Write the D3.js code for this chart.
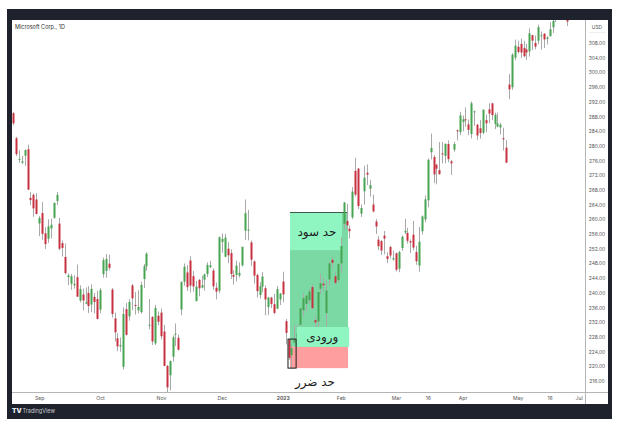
<!DOCTYPE html>
<html><head><meta charset="utf-8">
<script src="https://cdn.jsdelivr.net/npm/d3@7"></script>
<style>html,body{margin:0;padding:0;background:#fff;} svg{display:block}</style>
</head><body><svg id="c" width="624" height="427"></svg>
<script>
// Microsoft Corp. daily candles, 2022-08-19 .. 2023-05-31 (one entry per trading day)
const open = [
288.90,282.08,276.44,275.41,277.33,279.08,265.85,266.67,265.39,
258.87,261.70,256.20,254.70,257.51,260.43,265.00,258.84,253.53,249.77,244.26,242.47,242.07,244.26,237.88,239.54,237.05,239.98,236.81,238.89,238.29,
235.41,245.09,245.99,247.93,240.90,233.05,227.62,225.40,219.85,235.54,233.60,242.02,236.70,235.23,234.74,243.76,247.24,231.17,233.40,226.24,233.76,
234.60,229.46,220.08,217.55,222.60,228.73,227.75,235.43,242.99,245.54,248.80,244.51,237.78,243.51,241.43,243.59,245.11,246.98,246.08,241.40,240.57,
253.87,249.82,252.01,250.82,244.83,244.84,244.70,247.45,256.92,257.13,253.72,248.55,244.86,239.40,241.69,241.26,236.11,238.70,236.89,235.65,238.21,
243.08,232.28,227.20,223.00,226.45,227.76,231.29,235.26,237.00,237.97,241.57,232.56,232.23,241.10,242.50,234.48,243.65,248.99,244.51,243.45,
248.00,258.82,259.54,257.44,260.53,273.20,273.80,261.53,267.64,272.67,268.32,264.02,259.39,254.48,254.09,255.56,249.96,252.46,249.07,
250.76,246.55,252.19,256.43,256.30,254.04,255.82,251.08,247.40,256.75,259.98,265.21,278.26,276.98,274.88,273.40,277.94,277.24,280.50,275.79,278.96,284.23,283.73,
286.52,287.23,285.85,283.21,289.21,285.75,284.79,283.59,287.00,289.93,291.57,285.99,285.25,285.01,282.09,279.51,296.70,295.97,304.01,
306.97,307.76,306.62,306.24,305.72,310.13,308.00,308.62,310.10,310.55,309.10,309.83,312.29,314.53,316.74,318.60,320.03,314.73,323.24,324.02,335.23,332.29];
const high = [
289.25,282.46,278.86,277.23,279.02,280.34,267.40,267.05,267.11,
260.89,264.74,257.83,260.01,260.19,264.60,267.45,260.40,254.23,253.42,245.30,245.14,244.74,247.67,242.04,241.13,241.45,241.80,242.33,239.95,240.54,
241.31,249.58,250.58,250.35,241.32,234.56,229.06,227.86,236.05,237.24,238.24,242.39,240.17,240.66,243.00,247.84,251.04,238.30,233.69,236.72,234.92,
235.74,231.30,220.41,221.59,228.43,231.65,228.60,243.10,247.99,247.56,249.93,245.93,243.25,243.74,244.67,245.26,248.28,248.70,246.65,242.79,255.33,
256.12,256.06,253.82,251.86,246.16,248.74,248.31,252.54,265.40,262.59,254.20,248.84,245.21,242.91,245.62,241.99,238.87,238.93,239.72,241.92,239.96,
245.75,232.87,227.55,225.76,231.24,231.31,235.95,239.90,239.37,240.91,242.38,233.53,240.34,245.21,243.95,243.30,248.31,249.83,245.60,247.95,
255.18,264.69,264.20,258.30,268.77,276.76,273.98,264.09,274.60,274.97,270.73,266.74,260.09,255.49,254.34,256.84,251.00,252.82,251.49,
250.93,251.40,255.62,260.12,257.69,254.54,259.56,252.79,257.91,261.07,266.48,276.56,283.33,277.48,275.00,281.04,281.06,280.63,281.46,276.14,281.14,284.46,289.27,
288.27,290.45,287.15,292.08,289.60,285.98,287.01,289.90,288.48,291.60,291.76,289.05,289.03,286.27,284.95,281.60,299.57,305.20,308.93,
308.60,309.18,308.61,307.76,311.97,310.20,310.04,313.00,311.12,310.65,309.90,313.71,314.43,319.04,318.75,322.59,322.72,316.50,326.90,333.40,335.74,335.94];
const low = [
285.56,277.22,275.40,275.11,274.52,267.98,263.85,260.66,261.33,
255.41,254.47,251.94,253.60,254.81,260.15,263.90,251.59,249.86,244.95,242.06,240.85,241.14,238.90,237.40,235.20,236.90,234.50,234.73,234.41,232.73,
234.42,244.10,244.10,246.08,233.27,226.73,224.11,223.96,219.13,228.34,232.41,235.23,234.09,234.46,234.29,241.30,245.98,230.07,225.78,225.75,231.15,
227.33,220.04,213.00,213.43,221.28,225.50,224.33,233.90,241.93,240.53,240.12,240.32,237.63,239.03,241.19,240.58,244.27,246.73,240.80,238.21,239.86,
250.91,249.69,248.06,243.78,242.21,243.06,244.16,247.17,254.40,254.31,247.34,242.51,238.71,238.42,240.11,233.87,233.94,235.83,234.17,235.65,236.66,
237.40,225.96,221.76,219.35,226.41,227.33,231.11,233.56,234.92,237.09,235.52,230.31,230.81,239.65,240.44,230.90,242.00,246.83,242.20,242.95,
245.47,257.25,257.10,254.78,260.08,266.21,262.80,260.66,264.00,269.28,266.18,261.90,256.00,251.59,250.34,250.48,248.10,249.39,248.73,
245.79,245.61,251.39,255.98,253.39,250.81,251.58,247.60,245.73,255.86,259.21,263.28,276.32,269.85,269.52,272.18,275.20,275.28,275.52,272.05,278.41,281.48,283.00,
283.95,285.16,282.92,282.03,285.47,281.64,281.96,283.17,283.69,286.16,287.01,284.54,285.08,283.06,278.72,275.37,292.73,295.25,303.31,
305.15,303.91,304.09,303.40,304.27,306.09,306.31,307.67,306.26,306.60,307.59,309.83,310.74,313.72,316.37,318.01,315.25,312.61,320.00,323.88,330.52,327.33];
const close = [
286.15,277.75,276.44,275.79,278.85,268.09,265.23,262.97,261.47,
260.40,256.06,253.25,258.09,258.52,264.46,266.65,251.99,252.22,245.38,244.74,244.52,242.45,238.95,240.98,237.92,237.45,236.41,241.07,237.50,232.90,
240.74,248.88,249.20,246.79,234.24,229.25,225.41,225.75,234.24,228.56,237.53,238.50,236.48,236.15,242.12,247.25,250.66,231.32,226.75,235.87,232.13,
228.17,220.10,214.25,221.39,227.87,228.87,224.51,242.98,247.11,241.55,241.97,241.73,241.68,241.22,242.05,245.03,247.58,247.49,241.76,240.33,255.14,
254.69,255.02,250.20,245.12,244.37,247.40,245.42,252.51,261.69,257.22,249.01,244.69,240.45,241.80,244.43,238.19,238.73,236.96,234.53,241.01,239.82,
239.58,229.10,222.31,224.93,227.12,228.85,235.77,238.51,239.23,240.35,235.81,231.93,240.22,242.58,242.04,240.61,248.00,248.16,242.71,247.81,
252.75,264.60,258.35,256.77,267.56,266.73,263.62,263.10,271.32,272.17,269.32,262.15,258.06,252.67,251.51,254.77,249.22,250.16,249.42,
246.27,251.11,255.29,256.87,254.15,253.70,252.32,248.59,253.92,260.79,265.44,276.20,279.43,272.23,273.78,272.29,277.66,280.57,276.38,275.23,280.51,284.05,288.30,
287.23,287.18,284.34,291.60,289.39,282.83,283.49,289.84,286.14,288.80,288.37,288.45,286.11,285.76,281.77,275.42,295.37,304.83,307.26,
305.56,305.41,304.40,305.41,310.65,308.65,307.00,312.31,310.11,308.97,309.46,311.74,314.00,318.52,318.34,321.18,315.26,313.85,325.92,332.89,331.21,328.39];

// x-axis tick labels (trading-day index -> label)
const timeTickIndex = [9, 30, 51, 72, 93, 113, 132, 143, 155, 174, 185, 195];
const timeTickLabels = ["Sep", "Oct", "Nov", "Dec", "2023", "Feb", "Mar", "16", "Apr", "May", "16", "Jul"];
// price axis ticks
const priceTicks = [216,220,224,228,232,236,240,244,248,252,256,260,264,268,272,276,280,284,288,292,296,300,304,308];

// long-position drawing (trading-day index range, prices)
const positionStartIndex = 95.5;
const positionEndIndex = 115.5;
const targetPrice = 262.0;
const entryPrice = 225.3;
const stopPrice = 219.5;
const targetLabelBox = [95.5, 113.4, 262.0, 251.6];
const entryLabelBox = [97.9, 115.9, 230.7, 225.3];
const markBox = [94.8, 97.6, 227.4, 219.5];
const labelTexts = ["حد سود", "ورودی", "حد ضرر"];
const labelAnchors = [[104.8, 256.6], [106.6, 228.0], [104.1, 215.6]];

const W = 624, H = 427;
const plot = {left: 12, right: 585, top: 20, bottom: 392};
const svg = d3.select("#c");

// frame
svg.append("rect").attr("x", 7).attr("y", 9).attr("width", 605).attr("height", 410).attr("fill", "#1e222d");
svg.append("rect").attr("x", 12).attr("y", 20).attr("width", 596).attr("height", 384).attr("fill", "#ffffff");

const x = d3.scaleLinear().domain([-0.35, 197.2]).range([plot.left, plot.right]);
const y = d3.scaleLinear().domain([213.0, 314.26]).range([plot.bottom, plot.top]);

svg.append("defs").append("clipPath").attr("id", "clip")
  .append("rect").attr("x", plot.left).attr("y", plot.top)
  .attr("width", plot.right - plot.left).attr("height", plot.bottom - plot.top);

const g = svg.append("g").attr("clip-path", "url(#clip)");

// position tool boxes (under candles)
g.append("rect").attr("x", x(positionStartIndex)).attr("width", x(positionEndIndex) - x(positionStartIndex))
  .attr("y", y(targetPrice)).attr("height", y(entryPrice) - y(targetPrice)).attr("fill", "#7bd9a3");
g.append("rect").attr("x", x(targetLabelBox[0])).attr("width", x(targetLabelBox[1]) - x(targetLabelBox[0]))
  .attr("y", y(targetLabelBox[2])).attr("height", y(targetLabelBox[3]) - y(targetLabelBox[2])).attr("fill", "#8ff5c1");
g.append("rect").attr("x", x(positionStartIndex)).attr("width", x(positionEndIndex) - x(positionStartIndex))
  .attr("y", y(entryPrice)).attr("height", y(stopPrice) - y(entryPrice)).attr("fill", "#ff9e9e");
g.append("line").attr("x1", x(positionStartIndex)).attr("x2", x(positionEndIndex))
  .attr("y1", Math.round(y(targetPrice)) + 0.5).attr("y2", Math.round(y(targetPrice)) + 0.5)
  .attr("stroke", "#3c5a4a").attr("stroke-width", 1);

// candles
const idx = d3.range(open.length);
const up = "#47a452", down = "#c8313f";
g.selectAll("line.wick").data(idx).join("line").attr("class", "wick")
  .attr("x1", i => Math.round(x(i)) + 0.5).attr("x2", i => Math.round(x(i)) + 0.5)
  .attr("y1", i => y(high[i])).attr("y2", i => y(low[i]))
  .attr("stroke", "#a9a9a9").attr("stroke-width", 1);
g.selectAll("rect.body").data(idx).join("rect").attr("class", "body")
  .attr("x", i => Math.round(x(i)) - 0.5).attr("width", 2)
  .attr("y", i => y(Math.max(open[i], close[i])))
  .attr("height", i => Math.max(1, Math.abs(y(open[i]) - y(close[i]))))
  .attr("fill", i => close[i] >= open[i] ? up : down);

// entry label box (over candles)
g.append("rect").attr("x", x(entryLabelBox[0])).attr("width", x(entryLabelBox[1]) - x(entryLabelBox[0]))
  .attr("y", y(entryLabelBox[2])).attr("height", y(entryLabelBox[3]) - y(entryLabelBox[2])).attr("fill", "#8ff5c1");
g.append("rect").attr("x", x(markBox[0])).attr("width", x(markBox[1]) - x(markBox[0]))
  .attr("y", y(markBox[2])).attr("height", y(markBox[3]) - y(markBox[2]))
  .attr("fill", "none").attr("stroke", "#1a1a1a").attr("stroke-width", 1);

// labels
g.selectAll("text.lbl").data(labelTexts).join("text").attr("class", "lbl")
  .attr("x", (d, i) => x(labelAnchors[i][0])).attr("y", (d, i) => y(labelAnchors[i][1]))
  .attr("text-anchor", "middle").attr("dominant-baseline", "central")
  .attr("font-family", "DejaVu Sans").attr("font-size", 12).attr("fill", "#1c1c1c")
  .text(d => d);

// separators
svg.append("line").attr("x1", plot.right + 0.5).attr("x2", plot.right + 0.5).attr("y1", 20).attr("y2", 404)
  .attr("stroke", "#b5b5b5");
svg.append("line").attr("x1", 12).attr("x2", 608).attr("y1", plot.bottom + 0.5).attr("y2", plot.bottom + 0.5)
  .attr("stroke", "#b5b5b5");
svg.append("line").attr("x1", plot.right + 4).attr("x2", 606).attr("y1", 32.5).attr("y2", 32.5)
  .attr("stroke", "#eeeeee");

// price axis
const ya = svg.append("g").attr("transform", `translate(${plot.right},0)`)
  .call(d3.axisRight(y).tickValues(priceTicks).tickFormat(d3.format(".2f")).tickSize(0).tickPadding(12));
ya.select(".domain").remove();
ya.selectAll("text").attr("text-anchor", "middle")
  .attr("font-family", "Inter, sans-serif").attr("font-size", 4.9).attr("fill", "#555");
svg.append("text").attr("x", 597).attr("y", 27).attr("text-anchor", "middle").attr("dominant-baseline", "central")
  .attr("font-family", "Inter, sans-serif").attr("font-size", 4.9).attr("fill", "#555").text("USD");

// time axis
svg.append("defs").append("clipPath").attr("id", "clipx")
  .append("rect").attr("x", 12).attr("y", 392).attr("width", plot.right - 12).attr("height", 12);
const xa = svg.append("g").attr("clip-path", "url(#clipx)").append("g").attr("transform", `translate(0,${plot.bottom})`)
  .call(d3.axisBottom(x).tickValues(timeTickIndex).tickFormat((d, i) => timeTickLabels[i]).tickSize(0).tickPadding(4));
xa.select(".domain").remove();
xa.selectAll("text").attr("font-family", "Inter, sans-serif").attr("font-size", 5.1).attr("fill", "#555")
  .attr("font-weight", (d, i) => timeTickLabels[i] === "2023" ? 700 : 400);

// title
svg.append("text").attr("x", 15).attr("y", 27).attr("dominant-baseline", "central")
  .attr("font-family", "Inter, sans-serif").attr("font-size", 5.5).attr("fill", "#333").text("Microsoft Corp., 1D");

// footer
svg.append("text").attr("x", 12).attr("y", 411).attr("dominant-baseline", "central")
  .attr("font-family", "Inter, sans-serif").attr("font-size", 6.5).attr("font-weight", 900).attr("fill", "#e8eaef").text("TV");
svg.append("text").attr("x", 22.5).attr("y", 411).attr("dominant-baseline", "central")
  .attr("font-family", "Inter, sans-serif").attr("font-size", 5.5).attr("fill", "#c9ccd4").text("TradingView");
</script></body></html>
